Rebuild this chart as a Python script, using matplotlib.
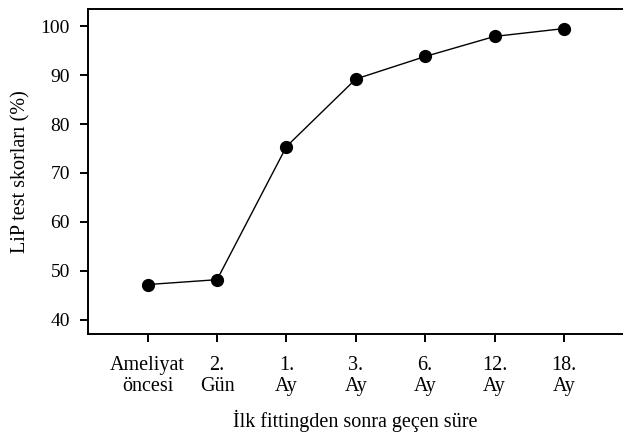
import matplotlib
matplotlib.use("Agg")
import matplotlib.pyplot as plt

categories = ["Ameliyat\nöncesi", "2.\nGün", "1.\nAy", "3.\nAy", "6.\nAy", "12.\nAy", "18.\nAy"]
scores = [47.2, 48.2, 75.4, 89.2, 93.8, 97.9, 99.5]
yticks = [40, 50, 60, 70, 80, 90, 100]

plt.rcParams['font.family'] = ['Liberation Serif', 'DejaVu Serif']

fig = plt.figure(figsize=(6.23, 4.32), dpi=100)
ax = fig.add_axes([88/623, 1 - 334/432, 1 - 88/623, (334 - 9)/432])

x = list(range(len(categories)))
ax.plot(x, scores, color='black', lw=1.0, marker='o', markersize=8.5,
        markerfacecolor='black', markeredgecolor='black')

ax.set_xlim(-0.86, 6.85)
ax.set_ylim(37.1, 103.5)
ax.set_xticks(x)
ax.set_xticklabels(categories, linespacing=1.1, fontsize=14.5)
ax.set_yticks(yticks)
ax.set_yticklabels([str(v) for v in yticks], fontsize=14)

ax.spines['right'].set_visible(False)
for s in ['left', 'bottom', 'top']:
    ax.spines[s].set_linewidth(1.4)
ax.tick_params(direction='out', length=6, width=1.4)
ax.tick_params(axis='x', pad=10)
ax.tick_params(axis='y', pad=7)

ax.set_ylabel("LiP test skorları (%)", fontsize=14.5, labelpad=7)
ax.set_xlabel("İlk fittingden sonra geçen süre", fontsize=14.5, labelpad=10.5)

fig.savefig("out.png", dpi=100)
